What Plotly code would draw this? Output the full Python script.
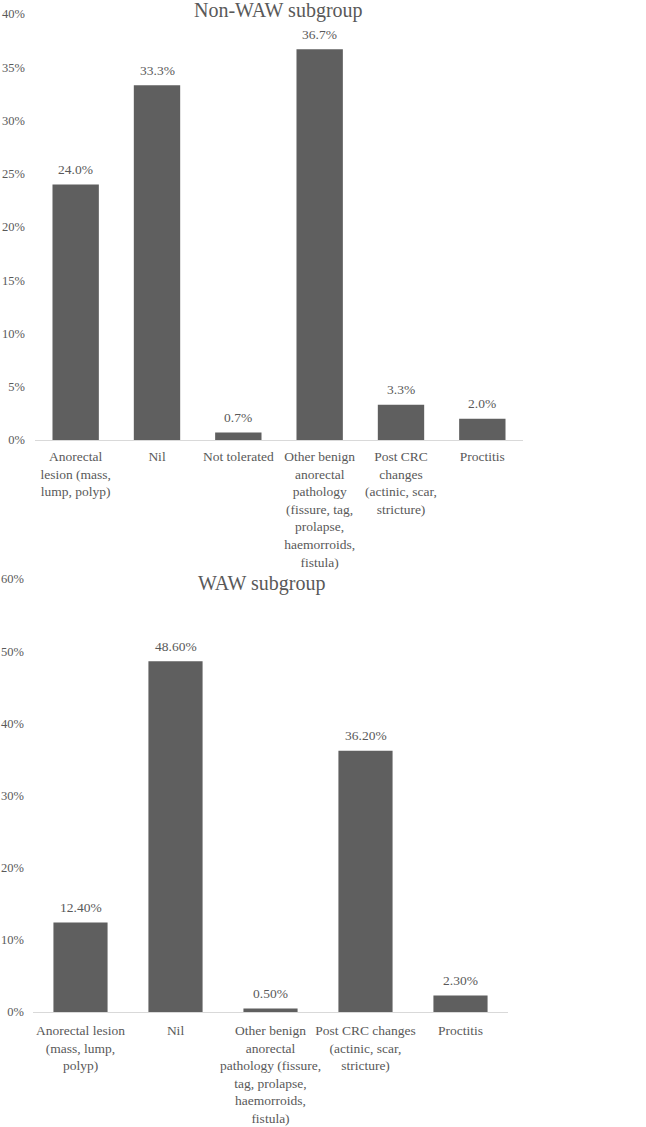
import plotly.graph_objects as go

W, H = 646, 1127

top_categories = ["Anorectal<br>lesion (mass,<br>lump, polyp)", "Nil", "Not tolerated",
                  "Other benign<br>anorectal<br>pathology<br>(fissure, tag,<br>prolapse,<br>haemorroids,<br>fistula)",
                  "Post CRC<br>changes<br>(actinic, scar,<br>stricture)", "Proctitis"]
top_values = [24.0, 33.3, 0.7, 36.7, 3.3, 2.0]
top_ticks = [0, 5, 10, 15, 20, 25, 30, 35, 40]

bot_categories = ["Anorectal lesion<br>(mass, lump,<br>polyp)", "Nil",
                  "Other benign<br>anorectal<br>pathology (fissure,<br>tag, prolapse,<br>haemorroids,<br>fistula)",
                  "Post CRC changes<br>(actinic, scar,<br>stricture)", "Proctitis"]
bot_values = [12.4, 48.6, 0.5, 36.2, 2.3]
bot_ticks = [0, 10, 20, 30, 40, 50, 60]

FONT = "Liberation Serif, Times New Roman, serif"
GRAY = "#595959"
BAR = "#5f5f5f"

def px(x):
    return x / W

def py(y):
    return (H - y) / H

fig = go.Figure()
fig.add_trace(go.Bar(x=list(range(len(top_values))), y=top_values, marker_color=BAR, width=0.57,
                     xaxis="x", yaxis="y"))
fig.add_trace(go.Bar(x=list(range(len(bot_values))), y=bot_values, marker_color=BAR, width=0.57,
                     xaxis="x2", yaxis="y2"))

label_font = dict(family=FONT, size=13.5, color=GRAY)
for i, v in enumerate(top_values):
    fig.add_annotation(x=i, y=v, xref="x", yref="y", text=f"{v:.1f}%", showarrow=False,
                       yanchor="middle", yshift=15, font=label_font)
for i, v in enumerate(bot_values):
    fig.add_annotation(x=i, y=v, xref="x2", yref="y2", text=f"{v:.2f}%", showarrow=False,
                       yanchor="middle", yshift=15, font=label_font)

axis_font = dict(family=FONT, size=13.5, color=GRAY)
ytick_font = dict(family=FONT, size=12.5, color=GRAY)
fig.update_layout(
    template="none",
    width=W, height=H, margin=dict(l=0, r=0, t=0, b=0, autoexpand=False),
    paper_bgcolor="white", plot_bgcolor="white", showlegend=False,
    font=dict(family=FONT, color=GRAY),
    xaxis=dict(domain=[px(35), px(523)], anchor="y", range=[-0.5, 5.5], automargin=False,
               tickmode="array", tickvals=list(range(len(top_categories))), ticktext=top_categories,
               tickfont=axis_font, showline=True, linecolor="#d9d9d9", linewidth=1,
               showgrid=False, ticks="", zeroline=False, tickangle=0, ticklabelstandoff=4),
    yaxis=dict(domain=[py(440), py(14)], anchor="x", range=[0, 40], automargin=False,
               tickmode="array", tickvals=top_ticks, ticktext=[f"{t}%" for t in top_ticks],
               tickfont=ytick_font, showgrid=False, zeroline=False, showline=False,
               ticks="", ticklabelstandoff=9),
    xaxis2=dict(domain=[px(33), px(508)], anchor="y2", range=[-0.5, 4.5], automargin=False,
                tickmode="array", tickvals=list(range(len(bot_categories))), ticktext=bot_categories,
                tickfont=axis_font, showline=True, linecolor="#d9d9d9", linewidth=1,
                showgrid=False, ticks="", zeroline=False, tickangle=0, ticklabelstandoff=6),
    yaxis2=dict(domain=[py(1012), py(579)], anchor="x2", range=[0, 60], automargin=False,
                tickmode="array", tickvals=bot_ticks, ticktext=[f"{t}%" for t in bot_ticks],
                tickfont=ytick_font, showgrid=False, zeroline=False, showline=False,
                ticks="", ticklabelstandoff=8),
)
fig.add_annotation(text="Non-WAW subgroup", x=px(278), y=py(11), xref="paper", yref="paper",
                   xanchor="center", yanchor="middle",
                   showarrow=False, font=dict(family=FONT, size=20, color=GRAY))
fig.add_annotation(text="WAW subgroup", x=px(261), y=py(583), xref="paper", yref="paper",
                   xanchor="center", yanchor="middle",
                   showarrow=False, font=dict(family=FONT, size=20, color=GRAY))

fig.write_html("out.html")
